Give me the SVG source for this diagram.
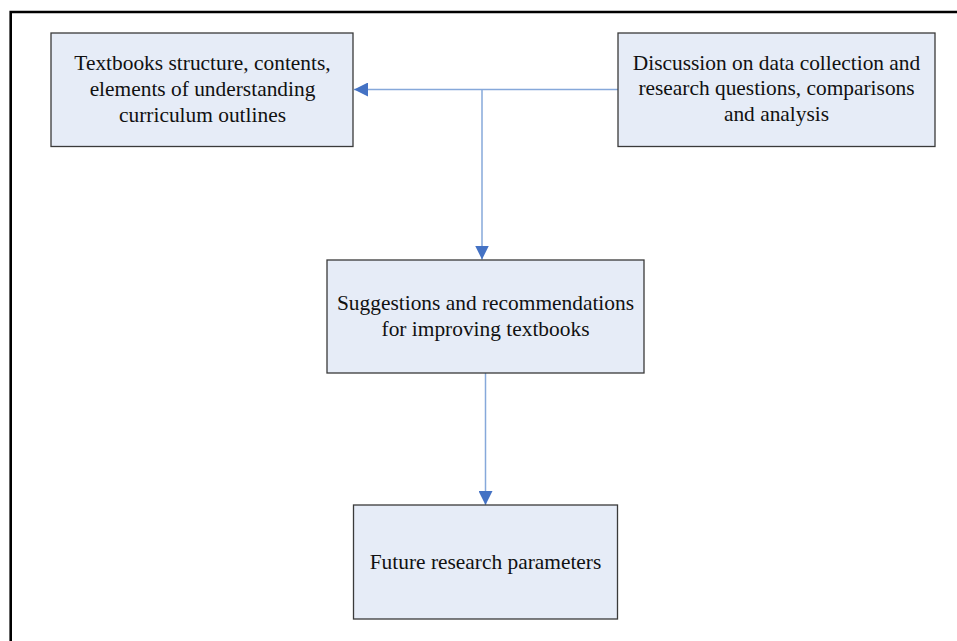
<svg xmlns="http://www.w3.org/2000/svg" width="957" height="641" viewBox="0 0 957 641">
<defs>
<style>
.box{fill:#e6ecf7;stroke:#3a3a3a;stroke-width:1.3}
.t{font-family:"Liberation Serif","Times New Roman",serif;font-size:21.4px;fill:#111;text-anchor:middle}
.c{fill:none;stroke:#86a8da;stroke-width:1.5}
.frame{fill:none;stroke:#000;stroke-width:2.6}
</style>
<marker id="ah" viewBox="0 0 10 10" refX="10" refY="5" markerWidth="14" markerHeight="14" markerUnits="userSpaceOnUse" orient="auto">
<path d="M0,0 L10,5 L0,10 Z" fill="#4472c4"/>
</marker>
</defs>
<rect width="957" height="641" fill="#fff"/>
<path class="frame" d="M10.7,641 V12 H957"/>
<g id="connectors">
<path class="c" d="M618,89.5 H354" marker-end="url(#ah)"/>
<path class="c" d="M482,89.5 V259.5" marker-end="url(#ah)"/>
<path class="c" d="M485.5,373 V505" marker-end="url(#ah)"/>
</g>
<g id="n1">
<rect class="box" x="51" y="33" width="302" height="113.5"/>
<text class="t" x="202.5" y="70">Textbooks structure, contents,</text>
<text class="t" x="202.5" y="96">elements of understanding</text>
<text class="t" x="202.5" y="121.5">curriculum outlines</text>
</g>
<g id="n2">
<rect class="box" x="618" y="33" width="317" height="113.5"/>
<text class="t" x="776.5" y="69.5">Discussion on data collection and</text>
<text class="t" x="776.5" y="95">research questions, comparisons</text>
<text class="t" x="776.5" y="120.5">and analysis</text>
</g>
<g id="n3">
<rect class="box" x="327" y="260" width="317" height="113"/>
<text class="t" x="485.5" y="310">Suggestions and recommendations</text>
<text class="t" x="485.5" y="335.5">for improving textbooks</text>
</g>
<g id="n4">
<rect class="box" x="353.5" y="505" width="264" height="114"/>
<text class="t" x="485.5" y="569">Future research parameters</text>
</g>
</svg>
